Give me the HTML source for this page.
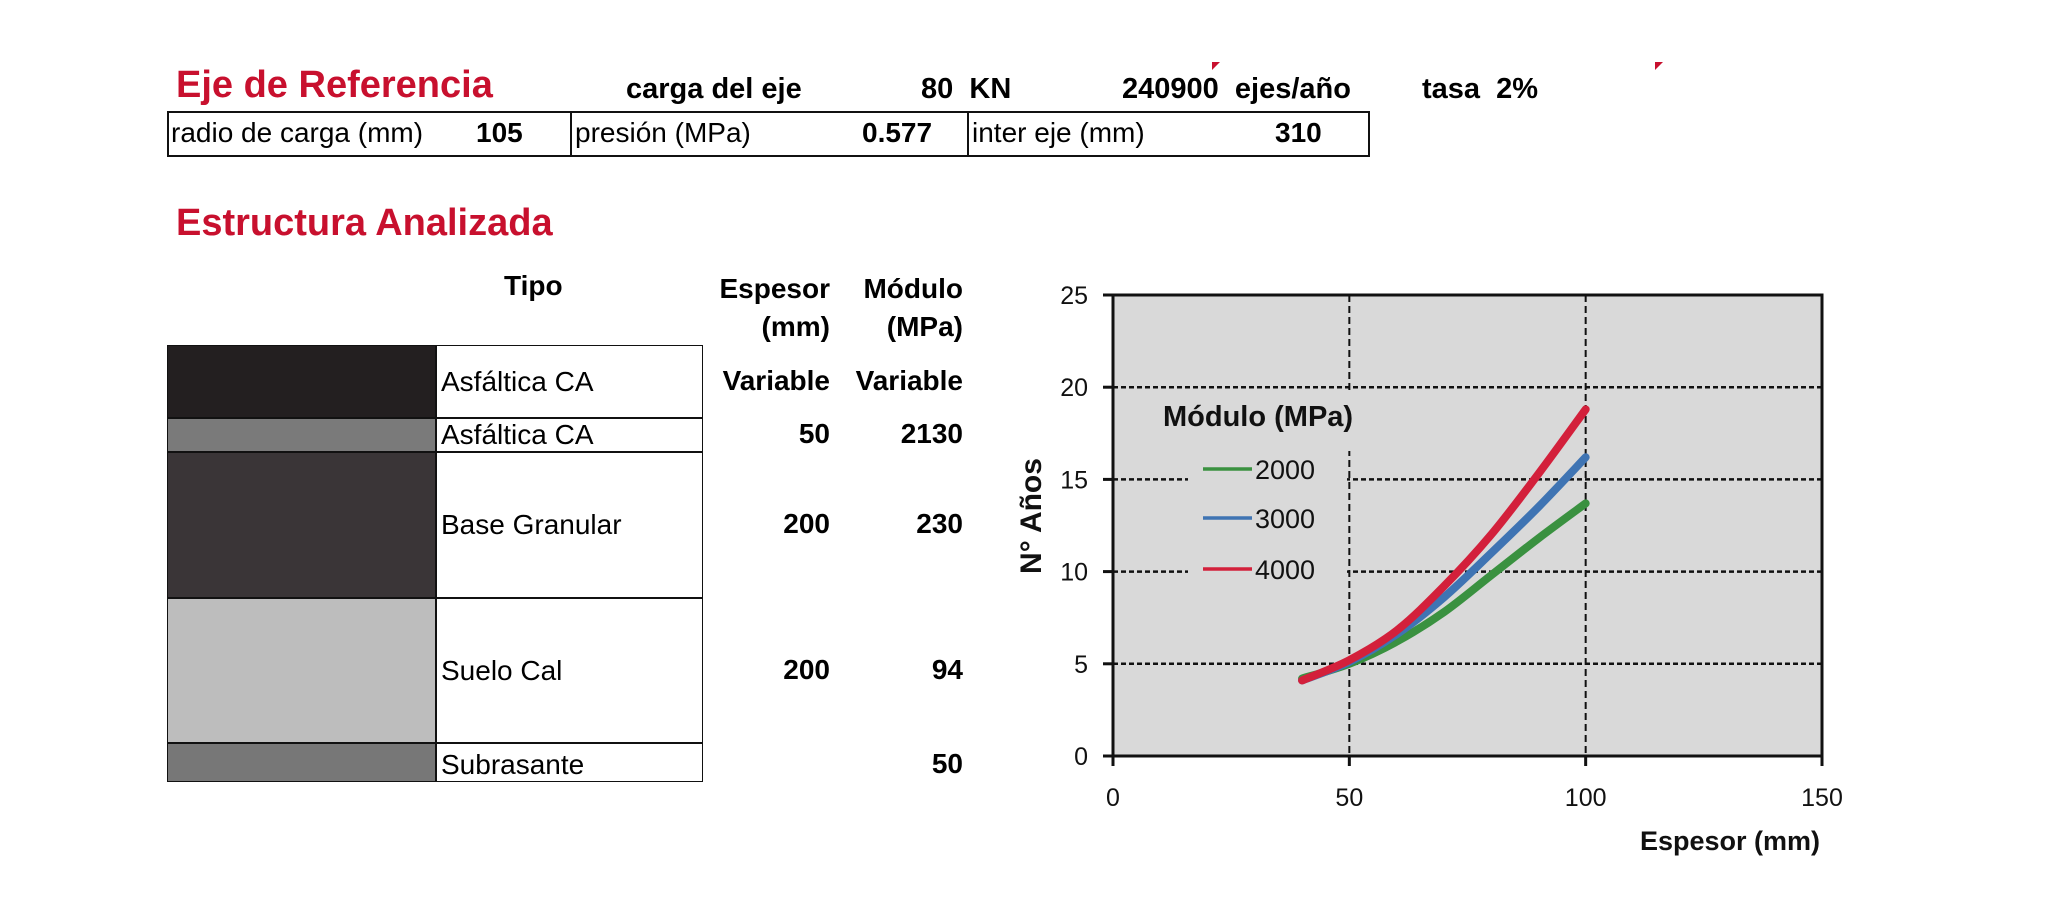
<!DOCTYPE html>
<html><head><meta charset="utf-8"><style>
body{margin:0;background:#fff;width:2046px;height:915px;overflow:hidden;position:relative;font-family:"Liberation Sans",Arial,sans-serif;}
.a{position:absolute;white-space:nowrap;}
.red{color:#c8102e;font-weight:bold;font-size:38px;}
.b{font-weight:bold;font-size:28px;}
.n{font-size:28px;}
.t{font-weight:bold;font-size:29px;}
</style></head><body>
<div class="a red" style="left:176px;top:64px">Eje de Referencia</div>
<div class="a t" style="left:626px;top:73px">carga del eje</div>
<div class="a t" style="left:921px;top:73px">80 &nbsp;KN</div>
<div class="a t" style="left:1122px;top:73px">240900 &nbsp;ejes/año</div>
<div class="a t" style="left:1422px;top:73px">tasa &nbsp;2%</div>
<div class="a" style="left:1212px;top:62px;width:0;height:0;border-left:8px solid #c8102e;border-bottom:8px solid transparent"></div>
<div class="a" style="left:1655px;top:62px;width:0;height:0;border-left:8px solid #c8102e;border-bottom:8px solid transparent"></div>
<div class="a" style="left:167px;top:111px;width:1199px;height:42px;border:2px solid #111"></div>
<div class="a" style="left:570px;top:111px;width:2px;height:46px;background:#111"></div>
<div class="a" style="left:967px;top:111px;width:2px;height:46px;background:#111"></div>
<div class="a n" style="left:171px;top:117px;width:264px;overflow:hidden">radio de carga (mm)</div>
<div class="a b" style="left:476px;top:117px">105</div>
<div class="a n" style="left:575px;top:117px">presión (MPa)</div>
<div class="a b" style="left:862px;top:117px">0.577</div>
<div class="a n" style="left:972px;top:117px">inter eje (mm)</div>
<div class="a b" style="left:1275px;top:117px">310</div>

<div class="a red" style="left:176px;top:202px">Estructura Analizada</div>
<div class="a b" style="left:504px;top:270px">Tipo</div>
<div class="a b" style="left:680px;top:270px;width:150px;text-align:right;line-height:38px">Espesor<br>(mm)</div>
<div class="a b" style="left:830px;top:270px;width:133px;text-align:right;line-height:38px">Módulo<br>(MPa)</div>

<div id="layers"></div>

<svg class="a" style="left:0;top:0" width="2046" height="915" id="chart"></svg>
<script>
const layerNames=["Asfáltica CA","Asfáltica CA","Base Granular","Suelo Cal","Subrasante"];
const layerEsp=["Variable","50","200","200",""];
const layerMod=["Variable","2130","230","94","50"];
const layerColors=["#231f20","#7a7a7a","#3a3537","#bdbdbd","#777"];
const rowEdges=[345,418,452,598,743,782];
const L=document.getElementById('layers');
for(let i=0;i<layerNames.length;i++){
  const t=rowEdges[i],h=rowEdges[i+1]-t;
  const sw=document.createElement('div');sw.className='a';
  
  
  sw.style.cssText=`left:167px;top:${t}px;width:269px;height:${h}px;background:${layerColors[i]};border:1.5px solid #111;box-sizing:border-box`;
  L.appendChild(sw);
  const c=document.createElement('div');c.className='a n';
  
  
  c.style.cssText=`left:436px;top:${t}px;width:267px;height:${h}px;border:1.5px solid #111;box-sizing:border-box;display:flex;align-items:${i==1||i==4?'flex-end':'center'};padding-left:4px;line-height:32px;overflow:hidden`;
  c.textContent=layerNames[i];L.appendChild(c);
  const ty=i==1||i==4?rowEdges[i+1]-34:t+h/2-17;
  const e=document.createElement('div');e.className='a b';
  
  
  e.style.cssText=`left:680px;top:${ty}px;width:150px;text-align:right`;e.textContent=layerEsp[i];L.appendChild(e);
  const m=document.createElement('div');m.className='a b';
  
  
  m.style.cssText=`left:830px;top:${ty}px;width:133px;text-align:right`;m.textContent=layerMod[i];L.appendChild(m);
}

const xVals=[40,50,60,70,80,90,100];
const s2000=[4.2,5.0,6.2,7.8,9.8,11.8,13.7];
const s3000=[4.1,5.1,6.6,8.6,11.0,13.5,16.2];
const s4000=[4.1,5.2,6.8,9.2,12.0,15.3,18.8];
const seriesNames=["2000","3000","4000"];
const seriesColors=["#3a9140","#3f74b3","#d3203b"];
const xTicks=[0,50,100,150];
const yTicks=[0,5,10,15,20,25];
const X0=1113,X1=1822,Y0=756,Y1=295;
const sx=v=>X0+(v-0)/150*(X1-X0), sy=v=>Y0-(v/25)*(Y0-Y1);
const svg=document.getElementById('chart');const NS='http://www.w3.org/2000/svg';
function mk(tag,attrs,name){const e=document.createElementNS(NS,tag);for(const k in attrs)e.setAttribute(k,attrs[k]);
  
  
  svg.appendChild(e);return e;}
mk('rect',{x:X0,y:Y1,width:X1-X0,height:Y0-Y1,fill:'#d9d9d9'},'plot-area');
yTicks.slice(1,-1).forEach(v=>mk('line',{x1:X0,x2:X1,y1:sy(v),y2:sy(v),stroke:'#111','stroke-width':2.5,'stroke-dasharray':'5,3'},'y-gridline'));
[50,100].forEach(v=>mk('line',{x1:sx(v),x2:sx(v),y1:Y1,y2:Y0,stroke:'#111','stroke-width':2,'stroke-dasharray':'7,4'},'x-gridline'));
mk('rect',{x:1188,y:395,width:159,height:195,fill:'#d9d9d9'},'legend-bg');
mk('rect',{x:1160,y:393,width:200,height:58,fill:'#d9d9d9'},'legend-title-bg');
mk('rect',{x:X0,y:Y1,width:X1-X0,height:Y0-Y1,fill:'none',stroke:'#111','stroke-width':3},'plot-border');
yTicks.forEach(v=>{mk('line',{x1:X0-10,x2:X0,y1:sy(v),y2:sy(v),stroke:'#111','stroke-width':3},'y-tick');
  const t=mk('text',{x:1088,y:sy(v)+9,'text-anchor':'end','font-size':25,fill:'#111'},'y-tick-label');t.textContent=v;});
xTicks.forEach(v=>{mk('line',{x1:sx(v),x2:sx(v),y1:Y0,y2:Y0+10,stroke:'#111','stroke-width':3},'x-tick');
  const t=mk('text',{x:sx(v),y:806,'text-anchor':'middle','font-size':25,fill:'#111'},'x-tick-label');t.textContent=v;});
const xt=mk('text',{x:1820,y:850,'text-anchor':'end','font-size':27,'font-weight':'bold',fill:'#111'},'x-axis-title');xt.textContent='Espesor (mm)';
const yt=mk('text',{x:0,y:0,'text-anchor':'middle','font-size':30,'font-weight':'bold',fill:'#111',transform:'translate(1041,516) rotate(-90)'},'y-axis-title');yt.textContent='N° Años';
function path(ys){const p=xVals.map((x,i)=>[sx(x),sy(ys[i])]);let d=`M${p[0][0]},${p[0][1]}`;
  for(let i=0;i<p.length-1;i++){const a=p[Math.max(0,i-1)],b=p[i],c=p[i+1],e=p[Math.min(p.length-1,i+2)];
    d+=` C${b[0]+(c[0]-a[0])/6},${b[1]+(c[1]-a[1])/6} ${c[0]-(e[0]-b[0])/6},${c[1]-(e[1]-b[1])/6} ${c[0]},${c[1]}`;}return d;}
[s2000,s3000,s4000].forEach((s,i)=>mk('path',{d:path(s),fill:'none',stroke:seriesColors[i],'stroke-width':8,'stroke-linecap':'round'},'series-'+seriesNames[i]));
const lt=mk('text',{x:1163,y:426,'font-size':29,'font-weight':'bold',fill:'#111'},'legend-title');lt.textContent='Módulo (MPa)';
[469,518,569].forEach((y,i)=>{mk('line',{x1:1203,x2:1252,y1:y,y2:y,stroke:seriesColors[i],'stroke-width':3.5},'legend-line');
  const t=mk('text',{x:1255,y:y+10,'font-size':27,fill:'#111'},'legend-entry');t.textContent=seriesNames[i];});
</script>
</body></html>
